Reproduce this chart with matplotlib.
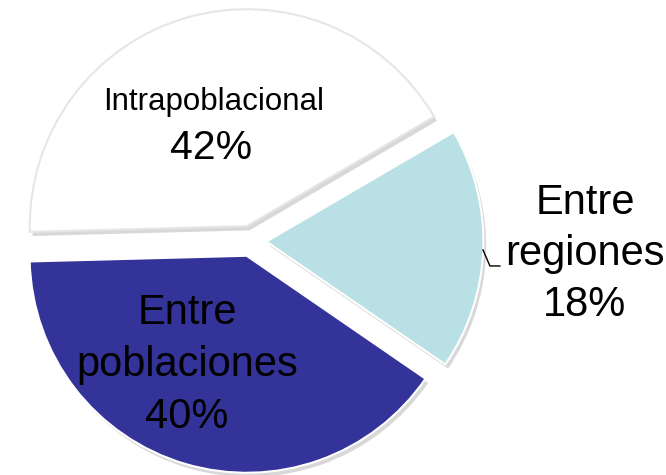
import matplotlib
matplotlib.use("Agg")
import matplotlib.pyplot as plt
import matplotlib.patheffects as pe

labels = ["Intrapoblacional", "Entre\nregiones", "Entre\npoblaciones"]
values = [42, 18, 40]
colors = ["#ffffff", "#b9e0e4", "#343399"]
edge_colors = ["#e6e6e6", "white", "white"]

plt.rcParams['font.family'] = ['Liberation Sans', 'DejaVu Sans']

fig = plt.figure(figsize=(6.66, 4.75), dpi=100)
ax = fig.add_axes([0, 0, 1, 1])

wedges, _ = ax.pie(values, colors=colors, startangle=181.5, counterclock=False,
                   explode=[0.071, 0.071, 0.071], radius=1.0,
                   wedgeprops=dict(linewidth=1.5))
for w, ec in zip(wedges, edge_colors):
    w.set_edgecolor(ec)
    w.set_path_effects([pe.SimplePatchShadow(offset=(2, -3), shadow_rgbFace="#808080", alpha=0.3),
                        pe.Normal()])

ax.set_aspect('auto')
ax.set_xlim(-251 / 217, (666 - 251) / 217)
ax.set_ylim(-(475 - 241) / 217, 241 / 217)
ax.axis('off')

pct = [f"{v}%" for v in values]

# Intrapoblacional
ax.text(-0.17, 0.604, labels[0], ha="center", va="baseline", fontsize=22.5, color="black")
ax.text(-0.184, 0.378, pct[0], ha="center", va="baseline", fontsize=29.5, color="black")

# Entre regiones (outside)
ax.text(1.539, -0.346, labels[1] + "\n" + pct[1], ha="center", va="baseline",
        fontsize=30, linespacing=1.36, color="black")
ax.plot([1.069, 1.101, 1.147], [-0.041, -0.115, -0.115], color="black", lw=1)

# Entre poblaciones
ax.text(-0.295, -0.862, labels[2] + "\n" + pct[2], ha="center", va="baseline",
        fontsize=30, linespacing=1.38, color="black")

fig.savefig("out.png", dpi=100)
